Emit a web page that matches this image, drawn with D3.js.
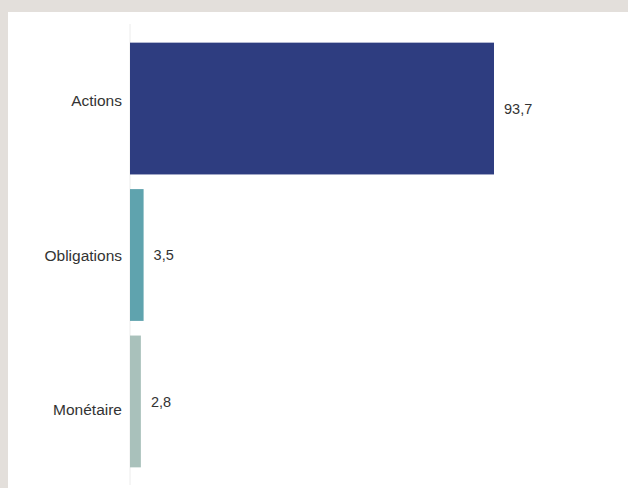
<!DOCTYPE html>
<html>
<head>
<meta charset="utf-8">
<script src="https://cdn.jsdelivr.net/npm/d3@7"></script>
<style>
  body { margin: 0; background: #e3dfdb; }
  svg { display: block; }
</style>
</head>
<body>
<svg id="chart"></svg>
<script>
var categories = ["Actions", "Obligations", "Monétaire"]
var values = [93.7, 3.5, 2.8]
var labels = ["93,7", "3,5", "2,8"]
var colors = ["#2e3d80", "#5fa3ae", "#a9c1bb"]

var width = 628
var height = 488

var margin = { top: 28, right: 134, bottom: 6, left: 130 }

var svg = d3.select("#chart")
    .attr("width", width)
    .attr("height", height)

// white panel
svg.append("rect")
    .attr("x", 8).attr("y", 12)
    .attr("width", width - 8).attr("height", height - 12)
    .attr("fill", "#fff")

var x = d3.scaleLinear()
    .domain([0, 93.7])
    .range([margin.left, width - margin.right])

var y = d3.scaleBand()
    .domain(categories)
    .range([margin.top, height - margin.bottom])
    .padding(0.1)

// category labels sit on their own spacing (a bit wider than the bars)
var yLab = d3.scalePoint()
    .domain(categories)
    .range([101, 409.5])

var data = categories.map((c, i) => ({ cat: c, val: values[i], lab: labels[i], col: colors[i] }))

// axis line
svg.append("line")
    .attr("x1", x(0)).attr("x2", x(0))
    .attr("y1", 24).attr("y2", 485)
    .attr("stroke", "#ececec")
    .attr("stroke-width", 1)

svg.selectAll(".bar").data(data).join("rect")
    .attr("class", "bar")
    .attr("x", x(0))
    .attr("y", d => y(d.cat))
    .attr("width", d => x(d.val) - x(0))
    .attr("height", y.bandwidth())
    .attr("fill", d => d.col)

svg.selectAll(".val").data(data).join("text")
    .attr("class", "val")
    .attr("x", d => x(d.val) + 10)
    .attr("y", d => y(d.cat) + y.bandwidth() / 2)
    .attr("dy", "0.35em")
    .attr("font-family", "Liberation Sans, Arial, sans-serif")
    .attr("font-size", 14.5)
    .attr("fill", "#333")
    .text(d => d.lab)

svg.selectAll(".cat").data(data).join("text")
    .attr("class", "cat")
    .attr("x", x(0) - 8)
    .attr("y", d => yLab(d.cat))
    .attr("dy", "0.35em")
    .attr("text-anchor", "end")
    .attr("font-family", "Liberation Sans, Arial, sans-serif")
    .attr("font-size", 15.5)
    .attr("fill", "#333")
    .text(d => d.cat)
</script>
</body>
</html>
